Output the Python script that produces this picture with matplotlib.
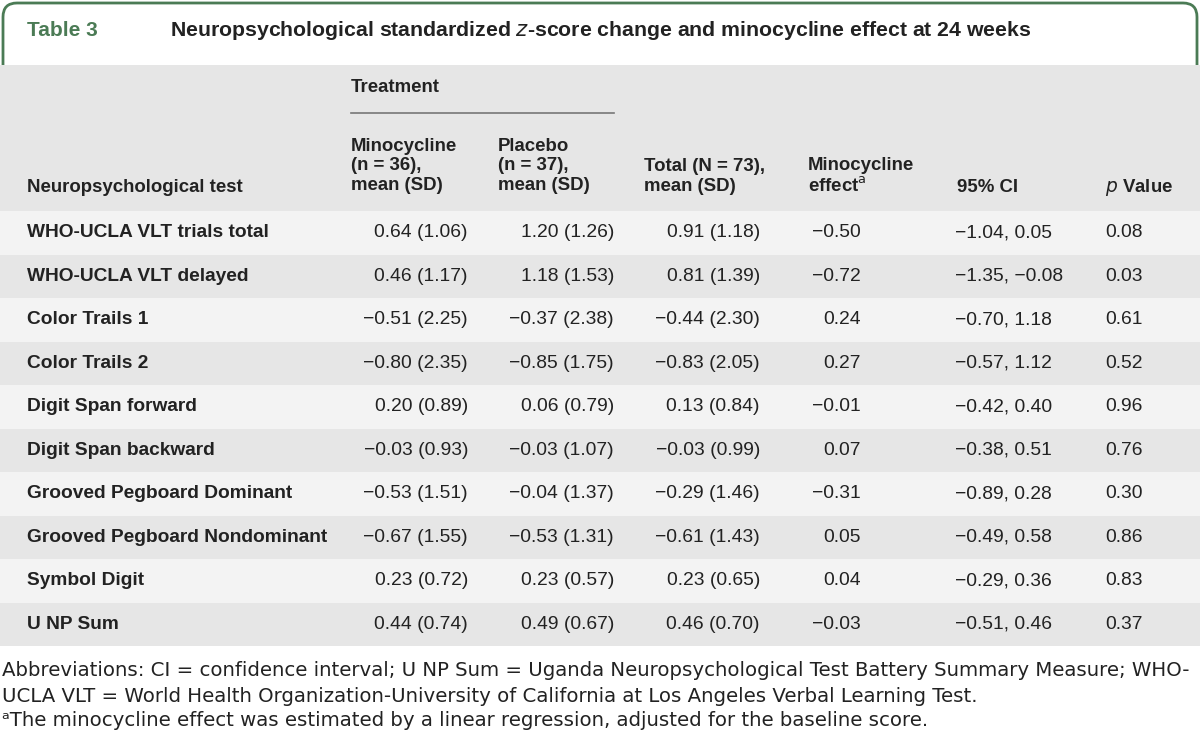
import matplotlib

matplotlib.use("Agg")

import matplotlib.pyplot as plt
from matplotlib.patches import FancyBboxPatch, Rectangle

plt.rcParams["font.family"] = ["Liberation Sans", "DejaVu Sans"]

TITLE_LABEL = "Table 3"
TITLE = "Neuropsychological standardized $\\it{z}$-score change and minocycline effect at 24 weeks"

tests = [
    "WHO-UCLA VLT trials total",
    "WHO-UCLA VLT delayed",
    "Color Trails 1",
    "Color Trails 2",
    "Digit Span forward",
    "Digit Span backward",
    "Grooved Pegboard Dominant",
    "Grooved Pegboard Nondominant",
    "Symbol Digit",
    "U NP Sum",
]
minocycline = ["0.64 (1.06)", "0.46 (1.17)", "−0.51 (2.25)", "−0.80 (2.35)", "0.20 (0.89)",
               "−0.03 (0.93)", "−0.53 (1.51)", "−0.67 (1.55)", "0.23 (0.72)", "0.44 (0.74)"]
placebo = ["1.20 (1.26)", "1.18 (1.53)", "−0.37 (2.38)", "−0.85 (1.75)", "0.06 (0.79)",
           "−0.03 (1.07)", "−0.04 (1.37)", "−0.53 (1.31)", "0.23 (0.57)", "0.49 (0.67)"]
total = ["0.91 (1.18)", "0.81 (1.39)", "−0.44 (2.30)", "−0.83 (2.05)", "0.13 (0.84)",
         "−0.03 (0.99)", "−0.29 (1.46)", "−0.61 (1.43)", "0.23 (0.65)", "0.46 (0.70)"]
effect = ["−0.50", "−0.72", "0.24", "0.27", "−0.01", "0.07", "−0.31", "0.05", "0.04", "−0.03"]
ci = ["−1.04, 0.05", "−1.35, −0.08", "−0.70, 1.18", "−0.57, 1.12", "−0.42, 0.40",
      "−0.38, 0.51", "−0.89, 0.28", "−0.49, 0.58", "−0.29, 0.36", "−0.51, 0.46"]
p_values = ["0.08", "0.03", "0.61", "0.52", "0.96", "0.76", "0.30", "0.86", "0.83", "0.37"]

footnotes = [
    "Abbreviations: CI = confidence interval; U NP Sum = Uganda Neuropsychological Test Battery Summary Measure; WHO-",
    "UCLA VLT = World Health Organization-University of California at Los Angeles Verbal Learning Test.",
    "ᵃThe minocycline effect was estimated by a linear regression, adjusted for the baseline score.",
]

GREEN = "#4b7b55"
TEXT = "#222222"
HEADER_BG = "#e6e6e6"
ROW_LIGHT = "#f3f3f3"
ROW_DARK = "#e6e6e6"
FS_HEAD = 13.4
FS_LABEL = 13.8
FS_CELL = 13.9

fig = plt.figure(figsize=(12, 7.47), dpi=100)
ax = fig.add_axes([0, 0, 1, 1])
ax.set_xlim(0, 1200)
ax.set_ylim(747, 0)
ax.axis("off")

# title box with rounded green border
ax.add_patch(FancyBboxPatch((3, 3), 1194, 90, boxstyle="round,pad=0,rounding_size=14",
                            fc="white", ec=GREEN, lw=2.0, zorder=1))
ax.add_patch(Rectangle((0, 65), 1200, 146, fc=HEADER_BG, ec="none", zorder=2))
ax.text(27, 31, TITLE_LABEL, color=GREEN, fontsize=15.0, fontweight="bold", va="center", zorder=3)
ax.text(170, 31, TITLE, color=TEXT, fontsize=15.3, fontweight="bold", va="center", zorder=3)

# header
hdr = dict(color=TEXT, fontsize=FS_HEAD, fontweight="bold", va="center", zorder=3, linespacing=1.2)
ax.text(351, 88, "Treatment", **hdr)
ax.plot([351, 614], [113, 113], color="#777777", lw=1.2, zorder=3)
ax.text(27, 187, "Neuropsychological test", **hdr)
ax.text(351, 166, "Minocycline\n(n = 36),\nmean (SD)", **hdr)
ax.text(498, 166, "Placebo\n(n = 37),\nmean (SD)", **hdr)
ax.text(644, 176.5, "Total (N = 73),\nmean (SD)", **hdr)
ax.text(808, 176.5, "Minocycline\neffect$^{\\mathrm{a}}$", **hdr)
ax.text(957, 187, "95% CI", **hdr)
ax.text(1105, 187, "$\\it{p}$ Value", **hdr)

# body rows
top = 211
row_h = 43.5
for i, name in enumerate(tests):
    y0 = top + i * row_h
    ax.add_patch(Rectangle((0, y0), 1200, row_h, fc=ROW_LIGHT if i % 2 == 0 else ROW_DARK,
                           ec="none", zorder=2))
    yc = y0 + row_h / 2
    ax.text(27, yc, name, color=TEXT, fontsize=FS_LABEL, fontweight="bold", va="center", zorder=3)
    cell = dict(color=TEXT, fontsize=FS_CELL, va="center", zorder=3)
    ax.text(468, yc, minocycline[i], ha="right", **cell)
    ax.text(614, yc, placebo[i], ha="right", **cell)
    ax.text(760, yc, total[i], ha="right", **cell)
    ax.text(861, yc, effect[i], ha="right", **cell)
    ax.text(955, yc, ci[i], ha="left", **cell)
    ax.text(1105, yc, p_values[i], ha="left", **cell)

for j, line in enumerate(footnotes):
    ax.text(2, 671 + j * 25, line, color=TEXT, fontsize=14.2, va="center", zorder=3,
            family=["DejaVu Sans"])

fig.savefig("out.png", dpi=100, facecolor="white")
